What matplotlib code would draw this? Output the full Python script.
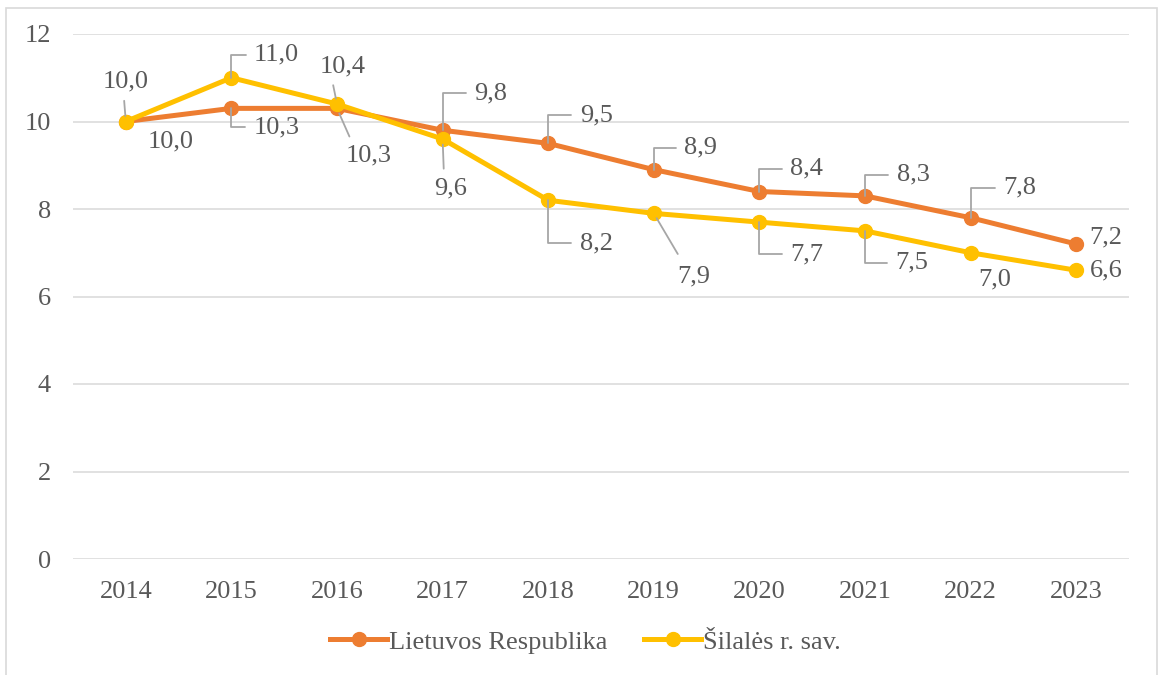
import matplotlib.pyplot as plt
from matplotlib.patches import Rectangle

years = ['2014', '2015', '2016', '2017', '2018', '2019', '2020', '2021', '2022', '2023']
lietuva = [10.0, 10.3, 10.3, 9.8, 9.5, 8.9, 8.4, 8.3, 7.8, 7.2]
silale = [10.0, 11.0, 10.4, 9.6, 8.2, 7.9, 7.7, 7.5, 7.0, 6.6]
series_names = ['Lietuvos Respublika', 'Šilalės r. sav.']

ORANGE = '#ED7D31'
YELLOW = '#FFC000'
TXT = '#595959'
LEAD = '#A6A6A6'

# label placement: (dx, dy) in pixels (dy down), leader kind, text anchor for leader
lt_labels = [((45, 20), None, None), ((45, 19), 'elbow', None), ((32, 47), 'straight', (0.15, 1.0)),
             ((48, -37), 'elbow', None), ((48, -28), 'elbow', None), ((47, -22), 'elbow', None),
             ((47, -23), 'elbow', None), ((48, -21), 'elbow', None), ((49, -30), 'elbow', None),
             ((30, -7), None, None)]
sl_labels = [((0, -40), 'straight', (0.45, 0.0)), ((45, -23), 'elbow', None), ((6, -38), 'straight', (0.25, 0.0)),
             ((8, 49), 'straight', (0.3, 1.0)), ((48, 43), 'elbow', None), ((40, 63), 'straight', (0.1, 1.3)),
             ((47, 32), 'elbow', None), ((47, 32), 'elbow', None), ((24, 27), None, None),
             ((30, 0), None, None)]

plt.rcParams['font.family'] = ['Liberation Serif', 'DejaVu Serif']

fig = plt.figure(figsize=(11.62, 6.75), dpi=100)
ax = fig.add_axes([73 / 1162, 116 / 675, 1056 / 1162, 525 / 675])

x = list(range(len(years)))
ax.plot(x, lietuva, color=ORANGE, lw=3.6, marker='o', ms=10, label=series_names[0], zorder=3)
ax.plot(x, silale, color=YELLOW, lw=3.6, marker='o', ms=10, label=series_names[1], zorder=4)


def put_labels(values, specs):
    for i, (v, (off, kind, rel)) in enumerate(zip(values, specs)):
        txt = f'{v:.1f}'.replace('.', ',')
        kw = {}
        if kind == 'elbow':
            kw['arrowprops'] = dict(arrowstyle='-', color=LEAD, lw=1.3,
                                    connectionstyle='angle,angleA=0,angleB=90,rad=0',
                                    relpos=(0.0, 0.5), shrinkA=4, shrinkB=0)
        elif kind == 'straight':
            kw['arrowprops'] = dict(arrowstyle='-', color=LEAD, lw=1.3,
                                    relpos=rel, shrinkA=4, shrinkB=4)
        ax.annotate(txt, (i, v), xytext=(off[0], -off[1]), textcoords='offset pixels',
                    ha='center', va='center', fontsize=19, color=TXT, zorder=5, **kw)


put_labels(lietuva, lt_labels)
put_labels(silale, sl_labels)

ax.set_xlim(-0.5, len(years) - 0.5)
ax.set_ylim(0, 12)
ax.set_yticks(range(0, 13, 2))
ax.set_xticks(x)
ax.set_xticklabels(years)
ax.tick_params(length=0, labelsize=19, labelcolor=TXT, pad=16)
ax.grid(axis='y', color='#D9D9D9', lw=1.1)
ax.set_axisbelow(True)
for s in ax.spines.values():
    s.set_visible(False)

fig.legend(loc='center', bbox_to_anchor=(0.504, 0.049), ncol=2, frameon=False,
           fontsize=19, labelcolor=TXT, handlelength=2.15, handletextpad=0.08,
           columnspacing=1.4)

fig.patches.append(Rectangle((6 / 1162, -0.01), 1151 / 1162, 1.01 - 8 / 675,
                             transform=fig.transFigure, fill=False,
                             edgecolor='#D9D9D9', lw=1.2))

fig.savefig('out.png', dpi=100)
